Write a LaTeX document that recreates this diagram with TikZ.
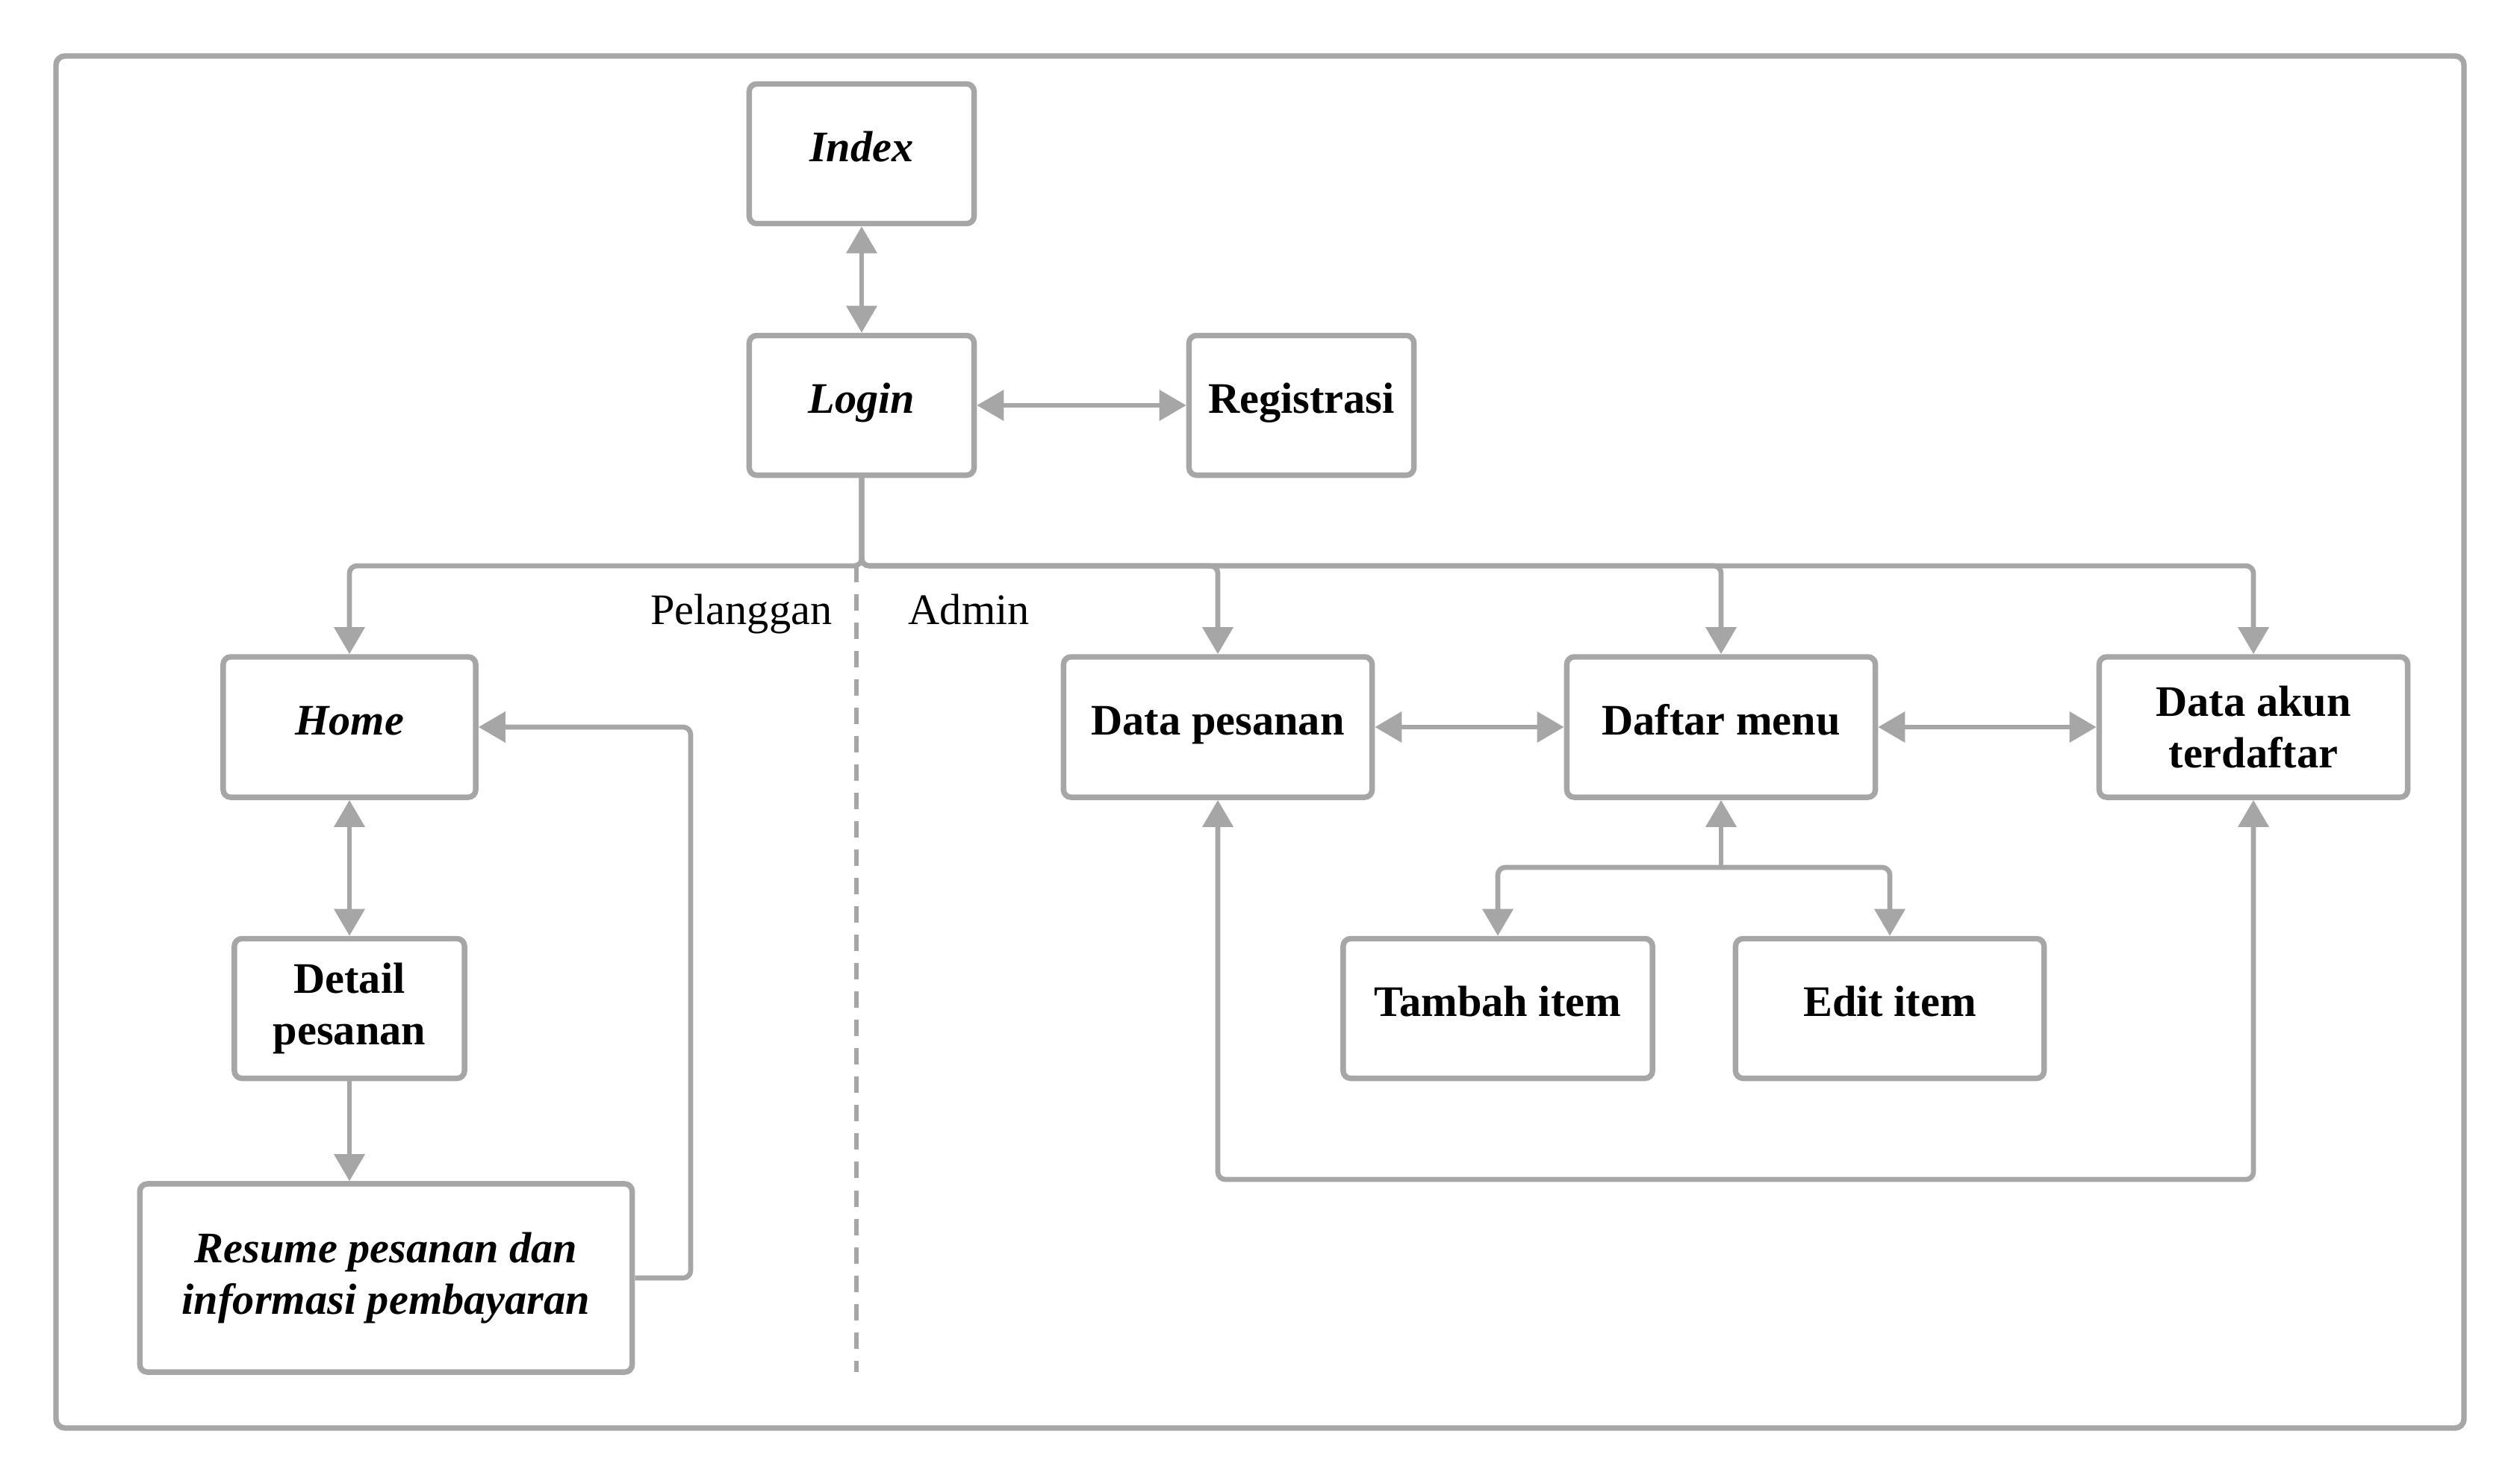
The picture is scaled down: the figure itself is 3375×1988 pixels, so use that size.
\documentclass[tikz,border=0pt]{standalone}
\usepackage{fontspec}
\setmainfont{Liberation Serif}
\usetikzlibrary{arrows.meta}
\definecolor{lg}{HTML}{A6A6A6}
\begin{document}
\begin{tikzpicture}[x=0.01cm,y=-0.01cm,
  >={Triangle[length=0.36cm,width=0.4cm]},
  box/.style={draw=lg,line width=2.1pt,rounded corners=0.1cm,fill=white,align=center,
    font=\fontsize{16.6}{19.6}\selectfont\bfseries,inner sep=2pt},
  one/.style={text height=11.5pt,text depth=5.3pt},
  conn/.style={draw=lg,line width=1.9pt,rounded corners=0.1cm,->},
  conn2/.style={draw=lg,line width=1.9pt,rounded corners=0.1cm,<->},
  plain/.style={draw=lg,line width=1.9pt,rounded corners=0.1cm},
  lbl/.style={font=\fontsize{16.6}{19.6}\selectfont,inner sep=0pt}]
\useasboundingbox (0,0) rectangle (3375,1988);
\draw[lg,line width=2.1pt,rounded corners=0.12cm] (75,75) rectangle (3300,1913);

\node[box,one,minimum width=3.01cm,minimum height=1.87cm] (index) at (1154,206) {\itshape Index};
\node[box,one,minimum width=3.01cm,minimum height=1.87cm] (login) at (1154,543) {\itshape Login};
\node[box,one,minimum width=3.01cm,minimum height=1.87cm] (reg) at (1743,543) {Registrasi};
\node[box,one,minimum width=3.38cm,minimum height=1.88cm] (home) at (468,974) {\itshape Home};
\node[box,minimum width=3.08cm,minimum height=1.87cm] (detail) at (468,1351) {Detail\\pesanan};
\node[box,minimum width=6.59cm,minimum height=2.52cm] (res) at (517,1712) {\itshape Resume pesanan dan\\\itshape informasi pembayaran};
\node[box,one,minimum width=4.13cm,minimum height=1.88cm] (dp) at (1631,974) {Data pesanan};
\node[box,one,minimum width=4.13cm,minimum height=1.88cm] (dm) at (2305,974) {Daftar menu};
\node[box,minimum width=4.13cm,minimum height=1.88cm] (da) at (3018,974) {Data akun\\terdaftar};
\node[box,one,minimum width=4.14cm,minimum height=1.87cm] (tambah) at (2006,1351) {Tambah item};
\node[box,one,minimum width=4.13cm,minimum height=1.87cm] (edit) at (2531,1351) {Edit item};

\node[lbl,anchor=base east] (pel) at (1115,836) {Pelanggan};
\node[lbl,anchor=base west] (adm) at (1216,836) {Admin};

\coordinate (j) at (1154,758);
\coordinate (dtop) at (1147,758);
\coordinate (dbot) at (1147,1838);
\coordinate (rr) at (925,1712);
\coordinate (dj) at (2305,1162);
\coordinate (lb) at (1631,1580);

\draw[conn2] (index) -- (login);
\draw[conn2] (login) -- (reg);
\draw[conn] (login.south) -- (j) -| (home.north);
\draw[conn] (login.south) -- (j) -| (dp.north);
\draw[conn] (login.south) -- (j) -| (dm.north);
\draw[conn] (login.south) -- (j) -| (da.north);
\draw[lg,line width=1.9pt,dash pattern=on 0.22cm off 0.16cm] (dtop) -- (dbot);

\draw[conn2] (home) -- (detail);
\draw[conn] (detail.south) -- (detail.south |- res.north);
\draw[conn] (res.east) -- (rr) |- (home.east);

\draw[conn2] (dp) -- (dm);
\draw[conn2] (dm) -- (da);
\draw[plain,<-] (dm.south) -- (dj);
\draw[conn] (dj) -| (tambah.north);
\draw[conn] (dj) -| (edit.north);
\draw[conn2] (dp.south) -- (lb) -| (da.south);
\end{tikzpicture}
\end{document}
